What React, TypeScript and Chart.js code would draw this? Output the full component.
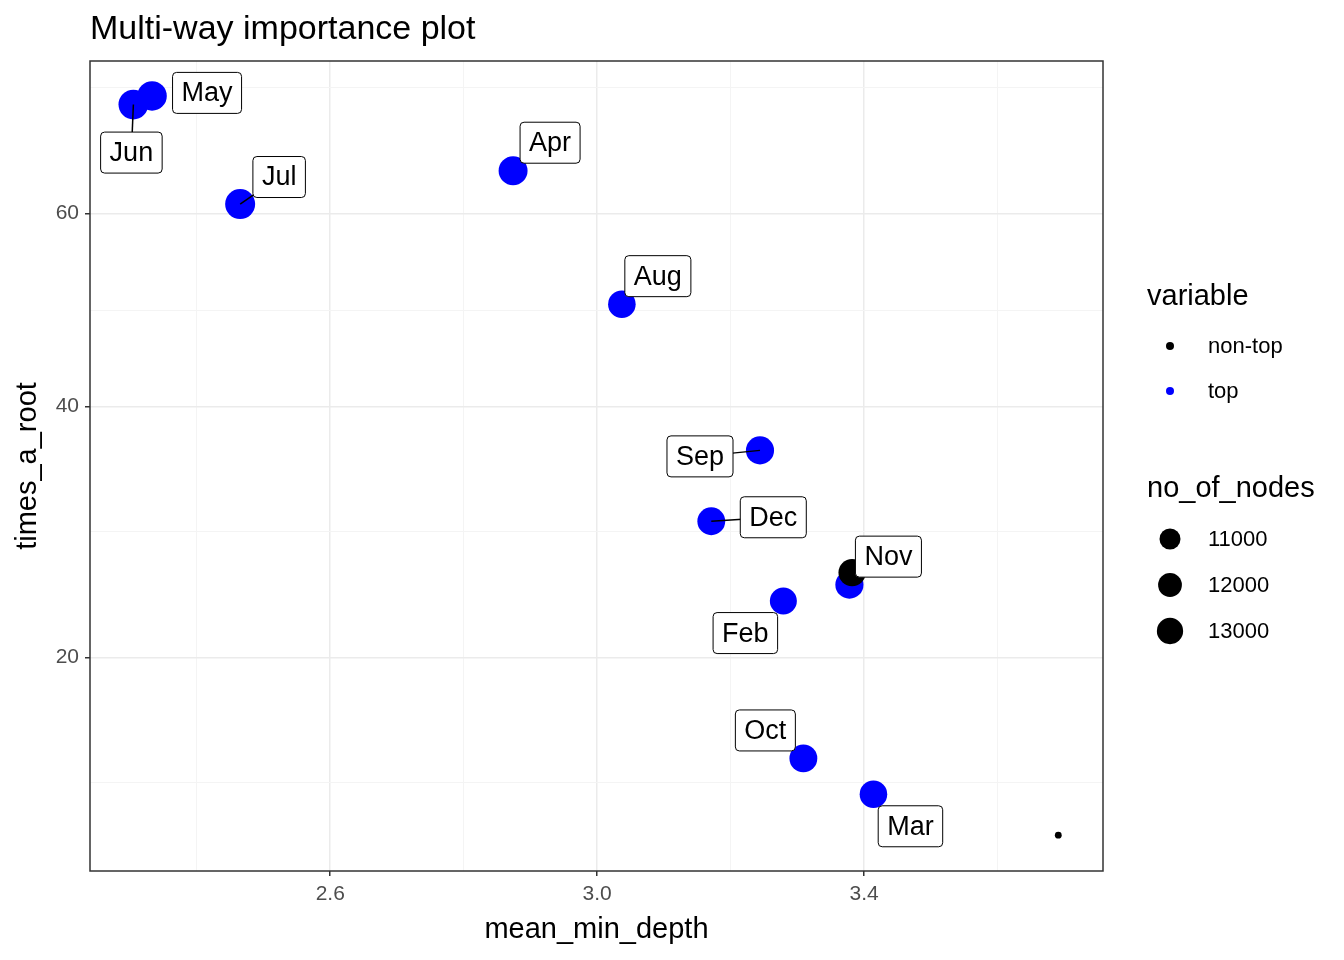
import React, { useEffect, useRef } from 'react';
import { Chart, registerables } from 'chart.js';

Chart.register(...registerables);

// top variables
const topNames = ['Jun', 'May', 'Jul', 'Apr', 'Aug', 'Sep', 'Dec', 'Nov', 'Feb', 'Oct', 'Mar'];
const topDepth = [2.305, 2.333, 2.465, 2.874, 3.037, 3.244, 3.171, 3.378, 3.279, 3.309, 3.414];
const topRoot = [73.1, 74.2, 61.1, 65.0, 50.1, 36.0, 30.0, 25.1, 23.9, 13.9, 12.0];
const topNodes = [13200, 13100, 13300, 12900, 12400, 12600, 12500, 12600, 12200, 12500, 12400];

// non-top variables
const nonTopDepth = [3.382, 3.691];
const nonTopRoot = [26.0, 10.0];
const nonTopNodes = [12300, 7800];

const yMajor = [20, 40, 60];
const xMajor = [2.6, 3.0, 3.4];
const xMinor = [2.4, 2.8, 3.2, 3.6];
const yMinorSqrt = [3.55, 5.4, 7.03, 8.675];
const sizeLegend = [11000, 12000, 13000];

// label offsets in px from point, and whether a segment is drawn
const labelOffset: Record<string, [number, number, boolean]> = {
  Jun: [-2, 48, true], May: [55, -3, false], Jul: [39, -27, true], Apr: [37, -28, false],
  Aug: [36, -28, false], Sep: [-60, 6, true], Dec: [62, -4, true], Nov: [39, -28, false],
  Feb: [-38, 32, false], Oct: [-38, -28, false], Mar: [37, 32, false],
};

const radius = (n: number) => 15 * Math.sqrt(Math.max(n - 7500, 0) / 5800);
const FONT = '"Liberation Sans", Arial, sans-serif';

const overlay = {
  id: 'overlay',
  afterDatasetsDraw(chart: any) {
    const ctx = chart.ctx as CanvasRenderingContext2D;
    const xs = chart.scales.x, ys = chart.scales.y;
    ctx.save();
    // labels
    ctx.font = `27px ${FONT}`;
    topNames.forEach((name, i) => {
      const px = xs.getPixelForValue(topDepth[i]);
      const py = ys.getPixelForValue(Math.sqrt(topRoot[i]));
      const [dx, dy, seg] = labelOffset[name];
      const cx = px + dx, cy = py + dy;
      const w = ctx.measureText(name).width + 18, h = 41;
      if (seg) {
        ctx.strokeStyle = '#000'; ctx.lineWidth = 1.5;
        ctx.beginPath(); ctx.moveTo(px, py); ctx.lineTo(cx, cy); ctx.stroke();
      }
      ctx.fillStyle = '#fff'; ctx.strokeStyle = '#000'; ctx.lineWidth = 1;
      ctx.beginPath(); (ctx as any).roundRect(cx - w / 2, cy - h / 2, w, h, 4); ctx.fill(); ctx.stroke();
      ctx.fillStyle = '#000'; ctx.textAlign = 'center'; ctx.textBaseline = 'middle';
      ctx.fillText(name, cx, cy + 1);
    });
    // panel border
    const a = chart.chartArea;
    ctx.strokeStyle = '#333'; ctx.lineWidth = 1.5;
    ctx.strokeRect(a.left, a.top, a.right - a.left, a.bottom - a.top);
    // titles
    ctx.fillStyle = '#000'; ctx.textBaseline = 'middle';
    ctx.textAlign = 'left'; ctx.font = `34px ${FONT}`;
    ctx.fillText('Multi-way importance plot', 90, 30);
    ctx.font = `29px ${FONT}`; ctx.textAlign = 'center';
    ctx.fillText('mean_min_depth', (a.left + a.right) / 2, 930);
    ctx.save(); ctx.translate(28, (a.top + a.bottom) / 2); ctx.rotate(-Math.PI / 2);
    ctx.fillText('times_a_root', 0, 0); ctx.restore();
    // legend
    ctx.textAlign = 'left';
    ctx.fillText('variable', 1147, 297);
    ctx.fillText('no_of_nodes', 1147, 489);
    ctx.font = `22px ${FONT}`;
    [['non-top', '#000', 346], ['top', '#0000ff', 391]].forEach(([t, c, y]: any) => {
      ctx.fillStyle = c; ctx.beginPath(); ctx.arc(1170, y, 4, 0, Math.PI * 2); ctx.fill();
      ctx.fillStyle = '#000'; ctx.fillText(t, 1208, y + 1);
    });
    sizeLegend.forEach((n, i) => {
      const y = 539 + i * 46;
      ctx.fillStyle = '#000'; ctx.beginPath(); ctx.arc(1170, y, radius(n) * 0.9, 0, Math.PI * 2); ctx.fill();
      ctx.fillText(String(n), 1208, y + 1);
    });
    ctx.restore();
  },
};

export default function App() {
  const ref = useRef<HTMLCanvasElement>(null);
  useEffect(() => {
    document.body.style.margin = '0';
    if (!ref.current) return;
    const isMajorX = (v: any) => xMajor.some((m) => Math.abs(m - v) < 1e-6);
    const isMajorY = (v: any) => yMajor.some((m) => Math.abs(Math.sqrt(m) - v) < 1e-6);
    const chart = new Chart(ref.current, {
      type: 'scatter',
      data: {
        datasets: [
          {
            label: 'non-top',
            data: nonTopDepth.map((x, i) => ({ x, y: Math.sqrt(nonTopRoot[i]) })),
            backgroundColor: '#000', borderWidth: 0,
            pointRadius: nonTopNodes.map(radius),
          },
          {
            label: 'top',
            data: topDepth.map((x, i) => ({ x, y: Math.sqrt(topRoot[i]) })),
            backgroundColor: '#0000ff', borderWidth: 0,
            pointRadius: topNodes.map(radius),
          },
        ],
      },
      options: {
        responsive: false, animation: false,
        layout: { padding: { left: 0, right: 241, top: 61, bottom: 0 } },
        plugins: { legend: { display: false }, tooltip: { enabled: false } },
        scales: {
          x: {
            type: 'linear', min: 2.24, max: 3.758,
            afterBuildTicks: (s: any) => {
              s.ticks = [...xMinor, ...xMajor].sort((a, b) => a - b).map((v) => ({ value: v }));
            },
            afterFit: (s: any) => { s.height = 89; },
            ticks: {
              autoSkip: false, maxRotation: 0, color: '#4d4d4d', font: { size: 21, family: FONT }, padding: 6,
              callback: (v: any) => (isMajorX(v) ? Number(v).toFixed(1) : ''),
            },
            grid: {
              color: (c: any) => (isMajorX(c.tick?.value) ? '#ebebeb' : '#f4f4f4'),
              lineWidth: (c: any) => (isMajorX(c.tick?.value) ? 1.5 : 1),
              tickColor: (c: any) => (isMajorX(c.tick?.value) ? '#333' : 'rgba(0,0,0,0)'),
              tickLength: 5,
            },
            border: { display: false },
          },
          y: {
            type: 'linear', min: Math.sqrt(8.4), max: Math.sqrt(78.7),
            afterBuildTicks: (s: any) => {
              s.ticks = [...yMinorSqrt, ...yMajor.map(Math.sqrt)].sort((a, b) => a - b).map((v) => ({ value: v }));
            },
            afterFit: (s: any) => { s.width = 90; },
            ticks: {
              autoSkip: false, color: '#4d4d4d', font: { size: 21, family: FONT }, padding: 6,
              callback: (v: any) => {
                const m = yMajor.find((t) => Math.abs(Math.sqrt(t) - v) < 1e-6);
                return m !== undefined ? String(m) : '';
              },
            },
            grid: {
              color: (c: any) => (isMajorY(c.tick?.value) ? '#ebebeb' : '#f4f4f4'),
              lineWidth: (c: any) => (isMajorY(c.tick?.value) ? 1.5 : 1),
              tickColor: (c: any) => (isMajorY(c.tick?.value) ? '#333' : 'rgba(0,0,0,0)'),
              tickLength: 5,
            },
            border: { display: false },
          },
        },
      },
      plugins: [overlay],
    });
    return () => chart.destroy();
  }, []);
  return <canvas ref={ref} width={1344} height={960} style={{ display: 'block' }} />;
}
